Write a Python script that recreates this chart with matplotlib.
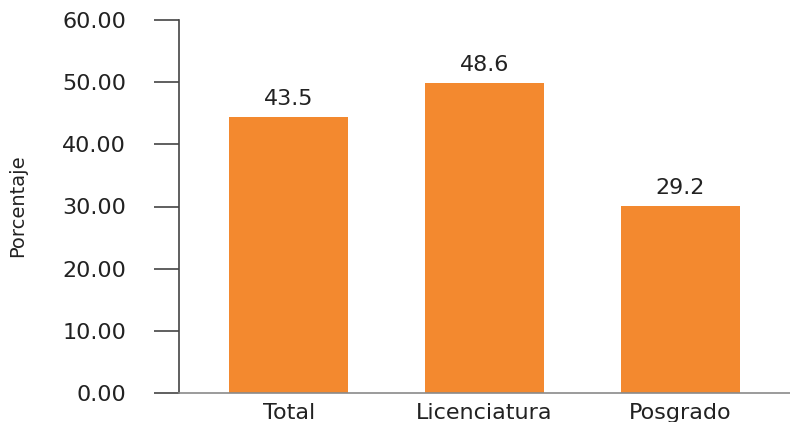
import matplotlib
matplotlib.use('Agg')
import matplotlib.pyplot as plt

# datos
categorias = ['Total', 'Licenciatura', 'Posgrado']
alturas = [44.4, 49.8, 30.1]          # altura de las barras tal como se ven
etiquetas = ['43.5', '48.6', '29.2']  # rotulos sobre las barras
ticks_y = [0, 10, 20, 30, 40, 50, 60]

naranja = '#F3892F'
texto = '#222222'

plt.rcParams['font.family'] = ['DejaVu Sans']

fig = plt.figure(figsize=(7.9, 4.22), dpi=100)
ax = fig.add_axes([179 / 790, 29 / 422, 1 - 179 / 790, 373 / 422])

x = range(len(categorias))
barras = ax.bar(x, alturas, width=0.61, color=naranja, zorder=2)

for b, et in zip(barras, etiquetas):
    ax.annotate(et, (b.get_x() + b.get_width() / 2, b.get_height()),
                xytext=(0, 6), textcoords='offset points',
                ha='center', va='bottom', fontsize=16, color=texto)

ax.set_xlim(-0.56, 2.56)
ax.set_ylim(0, 60)
ax.set_yticks(ticks_y)
ax.set_yticklabels(['%.2f' % t for t in ticks_y], fontsize=16, color=texto)
ax.set_xticks(list(x))
ax.set_xticklabels(categorias, fontsize=16, color=texto)

ax.tick_params(axis='y', length=18, width=1.2, color='#444444', pad=20)
ax.tick_params(axis='x', length=0, pad=7)

for s in ['top', 'right']:
    ax.spines[s].set_visible(False)
ax.spines['left'].set_color('#444444')
ax.spines['left'].set_linewidth(1.2)
ax.spines['bottom'].set_color('#8a8a8a')
ax.spines['bottom'].set_linewidth(1.2)

fig.text(18 / 790, 1 - 206 / 422, 'Porcentaje', rotation=90,
         ha='center', va='center', fontsize=14, color=texto)

fig.savefig('out.png', dpi=100)
